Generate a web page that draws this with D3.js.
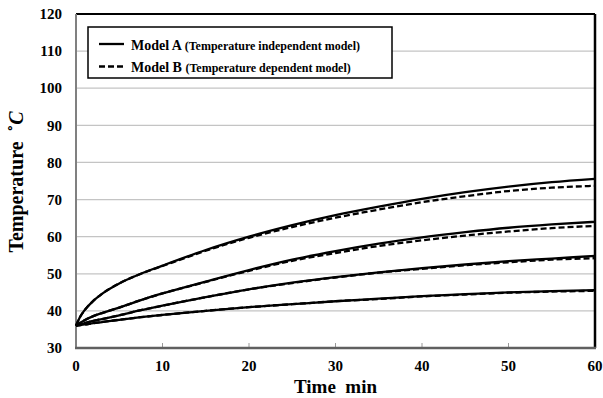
<!DOCTYPE html>
<html lang="en">
<head>
<meta charset="utf-8">
<script src="https://cdn.jsdelivr.net/npm/d3@7"></script>
<style>
  body { margin: 0; background: #fff; }
</style>
</head>
<body>
<script>
// time points (min)
const times = [0, 0.5, 1, 2, 3, 5, 7.5, 10, 15, 20, 25, 30, 35, 40, 45, 50, 55, 60];

// Model A (temperature independent), four curves
const modelA1 = [36, 38.5, 40.2, 42.7, 44.6, 47.4, 50.0, 52.2, 56.4, 60.0, 63.1, 65.8, 68.1, 70.2, 72.0, 73.5, 74.7, 75.6];
const modelA2 = [36, 36.8, 37.5, 38.6, 39.4, 40.9, 42.9, 44.7, 47.9, 51.0, 53.8, 56.1, 58.1, 59.8, 61.2, 62.4, 63.3, 64.0];
const modelA3 = [36, 36.4, 36.7, 37.3, 37.8, 38.8, 40.2, 41.4, 43.7, 45.8, 47.6, 49.1, 50.4, 51.5, 52.5, 53.4, 54.1, 54.8];
const modelA4 = [36, 36.2, 36.35, 36.7, 37.0, 37.6, 38.3, 38.9, 40.0, 41.0, 41.8, 42.6, 43.3, 44.0, 44.5, 45.0, 45.3, 45.6];

// Model B (temperature dependent), four curves
const modelB1 = [36, 38.5, 40.2, 42.7, 44.6, 47.4, 50.0, 52.1, 56.2, 59.7, 62.6, 65.1, 67.3, 69.3, 70.9, 72.3, 73.2, 73.7];
const modelB2 = [36, 36.8, 37.5, 38.6, 39.4, 40.9, 42.9, 44.7, 47.8, 50.8, 53.5, 55.6, 57.5, 59.0, 60.3, 61.4, 62.3, 62.9];
const modelB3 = [36, 36.4, 36.7, 37.3, 37.8, 38.8, 40.2, 41.4, 43.7, 45.8, 47.5, 49.0, 50.3, 51.3, 52.3, 53.1, 53.8, 54.2];
const modelB4 = [36, 36.2, 36.35, 36.7, 37.0, 37.6, 38.3, 38.9, 40.0, 41.0, 41.8, 42.6, 43.2, 43.9, 44.4, 44.9, 45.2, 45.4];

const xTicks = [0, 10, 20, 30, 40, 50, 60];
const yTicks = [30, 40, 50, 60, 70, 80, 90, 100, 110, 120];

const legendLabels = [
  {name: "Model A", note: "(Temperature independent model)", dash: null},
  {name: "Model B", note: "(Temperature dependent model)", dash: "6,3"}
];

const w = 603, h = 398;
const margin = {left: 76, right: 8, top: 14, bottom: 50};

const x = d3.scaleLinear().domain([0, 60]).range([margin.left, w - margin.right]);
const y = d3.scaleLinear().domain([30, 120]).range([h - margin.bottom, margin.top]);

const svg = d3.select("body").append("svg")
  .attr("width", w)
  .attr("height", h)
  .attr("font-family", "'Liberation Serif', 'Times New Roman', 'DejaVu Serif', serif")
  .attr("font-weight", "bold");

// gridlines
svg.append("g")
  .selectAll("line")
  .data(yTicks.filter(d => d > 30 && d < 120))
  .join("line")
  .attr("x1", x(0)).attr("x2", x(60))
  .attr("y1", d => y(d)).attr("y2", d => y(d))
  .attr("stroke", "#c4c4c4")
  .attr("stroke-width", 1.2);

// x ticks (inside)
svg.append("g")
  .selectAll("line")
  .data(xTicks.slice(1, -1))
  .join("line")
  .attr("x1", d => x(d)).attr("x2", d => x(d))
  .attr("y1", y(30)).attr("y2", y(30) - 5)
  .attr("stroke", "#999")
  .attr("stroke-width", 1);

// frame: top & right black, left & bottom gray
svg.append("line")
  .attr("x1", x(0)).attr("x2", x(60)).attr("y1", y(120)).attr("y2", y(120))
  .attr("stroke", "#000").attr("stroke-width", 2);
svg.append("line")
  .attr("x1", x(60)).attr("x2", x(60)).attr("y1", y(120)).attr("y2", y(30))
  .attr("stroke", "#000").attr("stroke-width", 2.5);
svg.append("line")
  .attr("x1", x(0)).attr("x2", x(0)).attr("y1", y(120)).attr("y2", y(30))
  .attr("stroke", "#808080").attr("stroke-width", 2);
svg.append("line")
  .attr("x1", x(0) - 1).attr("x2", x(60) + 1).attr("y1", y(30)).attr("y2", y(30))
  .attr("stroke", "#606060").attr("stroke-width", 2.5);

// tick labels
svg.append("g")
  .selectAll("text")
  .data(yTicks)
  .join("text")
  .attr("x", 62)
  .attr("y", d => y(d))
  .attr("dy", "0.35em")
  .attr("text-anchor", "end")
  .attr("font-size", 15)
  .text(d => d);

svg.append("g")
  .selectAll("text")
  .data(xTicks)
  .join("text")
  .attr("x", d => x(d))
  .attr("y", 371)
  .attr("text-anchor", "middle")
  .attr("font-size", 15)
  .text(d => d);

// axis titles
svg.append("text")
  .attr("x", x(30))
  .attr("y", 393)
  .attr("text-anchor", "middle")
  .attr("font-size", 19)
  .attr("xml:space", "preserve")
  .text("Time  min");

const yTitle = svg.append("text")
  .attr("transform", "translate(23," + 182 + ") rotate(-90)")
  .attr("text-anchor", "middle")
  .attr("font-size", 20)
  .attr("xml:space", "preserve");
yTitle.append("tspan").text("Temperature  ˚");
yTitle.append("tspan").attr("font-style", "italic").text("C");

// curves
const line = d3.line()
  .x((d, i) => x(times[i]))
  .y(d => y(d))
  .curve(d3.curveMonotoneX);

const curvesA = [modelA1, modelA2, modelA3, modelA4];
const curvesB = [modelB1, modelB2, modelB3, modelB4];

svg.append("g")
  .selectAll("path")
  .data(curvesB)
  .join("path")
  .attr("d", line)
  .attr("fill", "none")
  .attr("stroke", "#000")
  .attr("stroke-width", 2.3)
  .attr("stroke-dasharray", "6,3");

svg.append("g")
  .selectAll("path")
  .data(curvesA)
  .join("path")
  .attr("d", line)
  .attr("fill", "none")
  .attr("stroke", "#000")
  .attr("stroke-width", 2.3);

// legend
const legend = svg.append("g");
legend.append("rect")
  .attr("x", 88).attr("y", 27)
  .attr("width", 304).attr("height", 51)
  .attr("fill", "#fff")
  .attr("stroke", "#000")
  .attr("stroke-width", 1.5);

const rows = legend.selectAll("g")
  .data(legendLabels)
  .join("g")
  .attr("transform", (d, i) => "translate(0," + (44 + i * 22.5) + ")");

rows.append("line")
  .attr("x1", 99).attr("x2", 124)
  .attr("stroke", "#000")
  .attr("stroke-width", 2.3)
  .attr("stroke-dasharray", d => d.dash);

const lt = rows.append("text")
  .attr("x", 131)
  .attr("dy", "0.35em");
lt.append("tspan").attr("font-size", 14).text(d => d.name + " ");
lt.append("tspan").attr("font-size", 12).text(d => d.note);
</script>
</body>
</html>
